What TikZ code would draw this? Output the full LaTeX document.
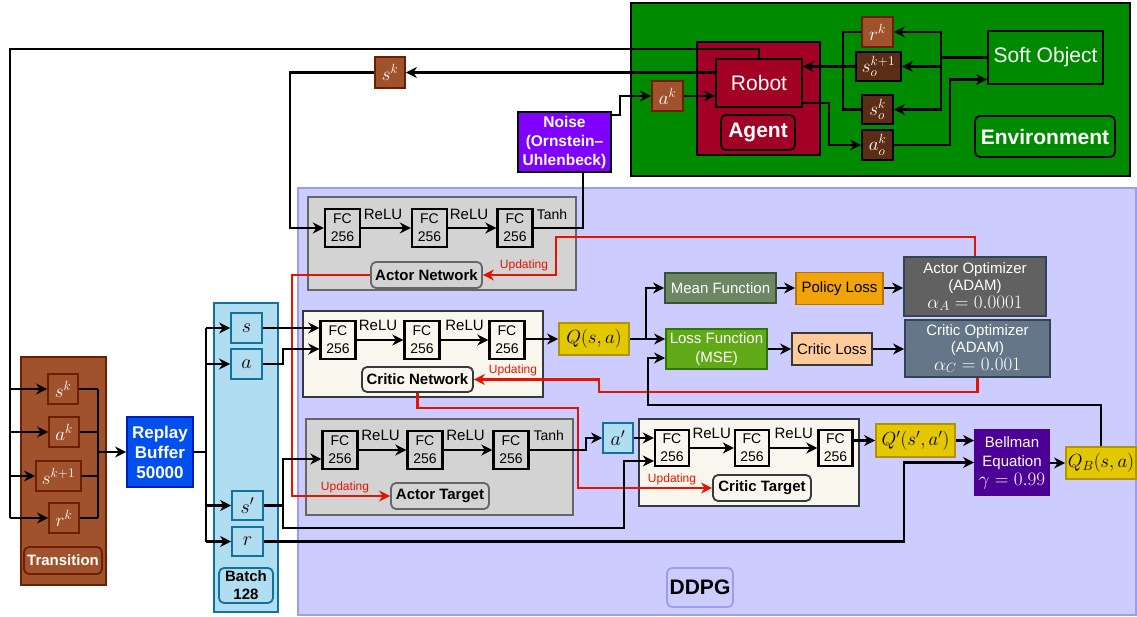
\documentclass[tikz,border=0pt]{standalone}
\usepackage{fix-cm}
\usepackage{fontspec}
\setmainfont{Liberation Sans}
\usetikzlibrary{arrows.meta,calc}

\definecolor{envgreen}{HTML}{008A00}
\definecolor{agentred}{HTML}{A20025}
\definecolor{brownfill}{HTML}{A0522D}
\definecolor{brownline}{HTML}{6D1F00}
\definecolor{darkbrown}{HTML}{5C2D15}
\definecolor{ddpgfill}{HTML}{CCCCFF}
\definecolor{ddpgline}{HTML}{9C9CF5}
\definecolor{greyfill}{HTML}{D3D3D3}
\definecolor{greyline}{HTML}{666666}
\definecolor{creamfill}{HTML}{F9F7ED}
\definecolor{creamline}{HTML}{36393D}
\definecolor{qfill}{HTML}{E3C800}
\definecolor{qline}{HTML}{B09500}
\definecolor{batchfill}{HTML}{B1DDF0}
\definecolor{batchline}{HTML}{10739E}
\definecolor{replayfill}{HTML}{0050EF}
\definecolor{replayline}{HTML}{001DBC}
\definecolor{noisefill}{HTML}{7F00FF}
\definecolor{meanfill}{HTML}{6D8764}
\definecolor{meanline}{HTML}{3A5431}
\definecolor{plossfill}{HTML}{F0A30A}
\definecolor{plossline}{HTML}{BD7000}
\definecolor{aoptfill}{HTML}{616161}
\definecolor{optline}{HTML}{314354}
\definecolor{lossfill}{HTML}{60A917}
\definecolor{lossline}{HTML}{2D7600}
\definecolor{clossfill}{HTML}{FFCC99}
\definecolor{coptfill}{HTML}{647687}
\definecolor{bellfill}{HTML}{4B0096}
\definecolor{updred}{HTML}{E51400}

\tikzset{
  wh/.style 2 args={minimum width=#1pt,minimum height=#2pt},
  bx/.style={draw,line width=1.8pt,inner sep=0pt,align=center},
  t12/.style={font=\fontsize{12}{14}\selectfont},
  t14/.style={font=\fontsize{14}{18}\selectfont},
  t15/.style={font=\fontsize{15}{17.5}\selectfont},
  t15b/.style={font=\fontsize{15}{18}\selectfont\bfseries},
  t17b/.style={font=\fontsize{17}{20}\selectfont\bfseries},
  m19/.style={font=\fontsize{19}{21}\selectfont},
  m20/.style={font=\fontsize{20}{22}\selectfont},
  t21/.style={font=\fontsize{21}{24}\selectfont},
  t21b/.style={font=\fontsize{21}{24}\selectfont\bfseries},
  fc/.style={bx,line width=2.4pt,wh={35}{38},t14},
  grp/.style={bx,line width=2pt},
  tagbox/.style={bx,rounded corners=5pt},
  brownbox/.style={bx,draw=brownline,fill=brownfill,text=white,m19},
  darkbox/.style={bx,draw=black,fill=darkbrown,text=white,m19},
  bluebox/.style={bx,draw=batchline,fill=batchfill,m20},
  qbox/.style={bx,draw=qline,fill=qfill,m19},
  wire/.style={line width=2.5pt},
  arr/.style={wire,-{Stealth[length=11pt,width=11pt,inset=3.5pt]}},
  upd/.style={line width=2.5pt,draw=updred,-{Stealth[length=11pt,width=11pt,inset=3.5pt]}},
  updlbl/.style={text=updred,t12,inner sep=0pt},
  actlbl/.style={t15,inner sep=0pt},
}

\begin{document}
\begin{tikzpicture}[x=1pt,y=-1pt]
\useasboundingbox (0,0) rectangle (1137,617);

% ---------------- environment side ----------------
\node[grp,draw=black,fill=envgreen,wh={499}{173}] (env) at (880.5,89.5) {};
\node[bx,draw=black,fill=agentred,wh={123}{113}] (agent) at (758.5,98.5) {};
\node[bx,draw=black,fill=agentred,text=white,t21,wh={86}{48}] (robot) at (759,83) {Robot};
\node[tagbox,draw=black,fill=agentred,text=white,t21b,wh={74}{35}] (agentlbl) at (758,132.5) {Agent};
\node[brownbox,wh={31}{30}] (ak) at (667.5,96) {$a^k$};
\node[brownbox,wh={31}{30}] (rk) at (877.5,32) {$r^k$};
\node[darkbox,wh={45}{29}] (sok1) at (878.5,66.5) {$s_o^{k+1}$};
\node[darkbox,wh={31}{29}] (sok) at (877.5,109.5) {$s_o^k$};
\node[darkbox,wh={31}{30}] (aok) at (877.5,145) {$a_o^k$};
\node[bx,draw=black,fill=envgreen,text=white,t21,wh={115}{53}] (soft) at (1045.5,57.5) {Soft Object};
\node[tagbox,draw=black,fill=envgreen,text=white,t21b,wh={140}{41}] (envlbl) at (1045,136.5) {Environment};

\node[brownbox,wh={30}{31}] (sktop) at (390,72.5) {$s^k$};
\node[bx,draw=black,fill=noisefill,text=white,font=\fontsize{15.5}{19}\selectfont\bfseries,wh={93}{60}] (noise) at (564.5,142) {Noise\\(Ornstein–\\Uhlenbeck)};

% ---------------- DDPG block ----------------
\node[bx,draw=ddpgline,fill=ddpgfill,wh={838}{427}] (ddpg) at (717,401.5) {};
\node[tagbox,draw=ddpgline,fill=ddpgfill,t21b,wh={66}{39}] (ddpglbl) at (700,587.5) {DDPG};

% actor network
\node[grp,draw=greyline,fill=greyfill,wh={268}{93}] (anet) at (442,243.5) {};
\node[fc] (afc1) at (342.5,228) {FC\\256};
\node[fc] (afc2) at (429.5,228) {FC\\256};
\node[fc] (afc3) at (515,228) {FC\\256};
\node[actlbl] (ar1) at (383,214) {ReLU};
\node[actlbl] (ar2) at (469,214) {ReLU};
\node[actlbl,t14] (at1) at (552,214) {Tanh};
\node[tagbox,draw=greyline,fill=greyfill,t15b,wh={111}{26}] (anetlbl) at (426.5,275) {Actor Network};
\node[updlbl] (u1) at (524,265) {Updating};

% critic network
\node[grp,draw=creamline,fill=creamfill,wh={240}{86}] (cnet) at (423,354) {};
\node[fc] (cfc1) at (338,340) {FC\\256};
\node[fc] (cfc2) at (422,340) {FC\\256};
\node[fc] (cfc3) at (507,340) {FC\\256};
\node[actlbl] (cr1) at (378,325) {ReLU};
\node[actlbl] (cr2) at (464.5,325) {ReLU};
\node[tagbox,draw=creamline,fill=creamfill,t15b,wh={111}{25}] (cnetlbl) at (417.5,379.5) {Critic Network};
\node[updlbl] (u2) at (513,370) {Updating};
\node[qbox,wh={70}{32}] (q) at (594,339) {$Q(s,a)$};

% actor target
\node[grp,draw=greyline,fill=greyfill,wh={267}{96}] (atgt) at (439.5,467) {};
\node[fc] (tfc1) at (340,450) {FC\\256};
\node[fc] (tfc2) at (425,450) {FC\\256};
\node[fc] (tfc3) at (511,450) {FC\\256};
\node[actlbl] (tr1) at (380.5,435) {ReLU};
\node[actlbl] (tr2) at (465.5,435) {ReLU};
\node[actlbl,t14] (tt1) at (548.7,435) {Tanh};
\node[tagbox,draw=greyline,fill=greyfill,t15b,wh={98}{26}] (atgtlbl) at (440,496) {Actor Target};
\node[updlbl] (u3) at (345,487) {Updating};
\node[bluebox,wh={30}{30}] (ap) at (618,438) {$a'$};

% critic target
\node[grp,draw=creamline,fill=creamfill,wh={220}{87}] (ctgt) at (749,462.5) {};
\node[fc,wh={34}{36}] (dfc1) at (672,448) {FC\\256};
\node[fc,wh={34}{36}] (dfc2) at (752,448) {FC\\256};
\node[fc,wh={34}{36}] (dfc3) at (835.5,448) {FC\\256};
\node[actlbl] (dr1) at (711.7,433) {ReLU};
\node[actlbl] (dr2) at (793.8,433) {ReLU};
\node[tagbox,draw=creamline,fill=creamfill,t15b,wh={98}{26}] (ctgtlbl) at (762,488) {Critic Target};
\node[updlbl] (u4) at (672,479) {Updating};
\node[qbox,wh={79}{33}] (qp) at (915.5,440.5) {$Q'(s',a')$};
\node[bx,draw=bellfill,fill=bellfill,text=white,font=\fontsize{15}{19}\selectfont,wh={74}{65}] (bell) at (1012,462.5)
  {Bellman\\Equation\\{\fontsize{19}{19}\selectfont$\gamma=0.99$}};
\node[qbox,wh={70}{32}] (qb) at (1101,463) {$Q_B(s,a)$};

% losses and optimisers
\node[bx,draw=meanline,fill=meanfill,text=white,t15,wh={111}{30}] (mean) at (720.5,288) {Mean Function};
\node[bx,draw=plossline,fill=plossfill,t15,wh={87}{32}] (ploss) at (839.5,288.5) {Policy Loss};
\node[bx,draw=optline,fill=aoptfill,text=white,t15,wh={142}{59}] (aopt) at (975,286.5)
  {Actor Optimizer\\(ADAM)\\{\fontsize{19}{18}\selectfont$\alpha_A=0.0001$}};
\node[bx,draw=lossline,fill=lossfill,text=white,font=\fontsize{15}{19}\selectfont,wh={101}{40}] (lossf) at (716.5,349) {Loss Function\\(MSE)};
\node[bx,draw=creamline,fill=clossfill,t15,wh={80}{32}] (closs) at (832,349) {Critic Loss};
\node[bx,draw=optline,fill=coptfill,text=white,t15,wh={145}{57}] (copt) at (977.5,348.5)
  {Critic Optimizer\\(ADAM)\\{\fontsize{19}{18}\selectfont$\alpha_C=0.001$}};

% ---------------- batch ----------------
\node[grp,draw=batchline,fill=batchfill,wh={64}{309}] (batch) at (246,457.5) {};
\node[bluebox,wh={31}{30}] (bs) at (246.5,328) {$s$};
\node[bluebox,wh={31}{30}] (ba) at (246.5,364) {$a$};
\node[bluebox,wh={31}{29}] (bsp) at (247.5,505.5) {$s'$};
\node[bluebox,wh={31}{29}] (br) at (247.5,541.5) {$r$};
\node[tagbox,draw=batchline,fill=batchfill,t15b,wh={54}{35}] (batchlbl) at (246,585.5) {Batch\\128};

% ---------------- transition and replay buffer ----------------
\node[grp,draw=brownline,fill=brownfill,wh={85}{228}] (trans) at (63.5,471) {};
\node[brownbox,wh={30}{30}] (ts) at (63,389) {$s^k$};
\node[brownbox,wh={30}{30}] (ta) at (64,432) {$a^k$};
\node[brownbox,wh={45}{30}] (ts1) at (58.5,476) {$s^{k+1}$};
\node[brownbox,wh={30}{30}] (tr) at (64,518) {$r^k$};
\node[tagbox,draw=brownline,fill=brownfill,text=white,t15b,wh={78}{27}] (translbl) at (63,560.5) {Transition};
\node[bx,draw=replayline,fill=replayfill,text=white,t17b,wh={66}{70}] (replay) at (160,452) {Replay\\Buffer\\50000};

% ---------------- junction points ----------------
\coordinate (jR) at (941,0);
\coordinate (jL) at (843,0);
\coordinate (jA) at (829,0);
\coordinate (jB) at (950,0);
\coordinate (jN) at (620,0);
\coordinate (loop) at (10,49);
\coordinate (jS) at (290,0);
\coordinate (jT) at (583,0);
\coordinate (rA) at (556,237);
\coordinate (rB) at (292,0);
\coordinate (jC) at (283,0);
\coordinate (jQ) at (646,0);
\coordinate (rC) at (599,392);
\coordinate (rD) at (578,408);
\coordinate (rE) at (648,405);
\coordinate (jK) at (206,0);
\coordinate (jX) at (98,0);
\coordinate (jD) at (624,528);
\coordinate (jE) at (586,0);
\coordinate (jF) at (904,0);

% ---------------- environment connectors ----------------
\draw[wire] (soft.west) -- (jR |- soft.west);
\draw[arr] (jR |- soft.west) |- (rk.east);
\draw[arr] (jR |- soft.west) |- (sok.east);
\draw[arr] (jR |- sok1) -- (sok1.east);
\draw[wire] (rk.west) -| (jL |- sok1.west);
\draw[wire] (sok.west) -| (jL |- sok1.west);
\draw[arr] (sok1.west) -- (robot.east |- sok1.west);
\draw[arr] ([yshift=-20pt]robot.east) -| (jA |- aok.west) -- (aok.west);
\draw[arr] (aok.east) -- (jB |- aok.east) |- ([yshift=-22pt]soft.west);
\draw[arr] (ak.east) -- (robot.west |- ak.east);
\draw[arr] ([yshift=-4pt]noise.north east) -| (jN |- ak.west) -- (ak.west);
\draw[wire] (robot.north) |- (loop) -- (loop |- tr.west);
\draw[arr] (loop |- ts.west) -- (ts.west);
\draw[arr] (loop |- ta.west) -- (ta.west);
\draw[arr] (loop |- ts1.west) -- (ts1.west);
\draw[arr] (loop |- tr.west) -- (tr.west);
\draw[arr] (robot.west |- sktop) -- (sktop.east);
\draw[arr] (sktop.west) -| (jS |- afc1) -- (afc1.west);

% ---------------- actor network ----------------
\draw[arr] (afc1.east) -- (afc2.west);
\draw[arr] (afc2.east) -- (afc3.west);
\draw[wire] (afc3.east) -| (jT |- noise.south);
\draw[upd] (aopt.north) |- (rA) |- (anetlbl.east);
\draw[upd] (anetlbl.west) -| (rB |- atgtlbl) -- (atgtlbl.west);

% ---------------- critic network ----------------
\draw[arr] (bs.east) -- (cfc1.west |- bs.east);
\draw[arr] (ba.east) -- (jC |- ba.east) |- ([yshift=-9pt]cfc1.west);
\draw[arr] (cfc1.east) -- (cfc2.west);
\draw[arr] (cfc2.east) -- (cfc3.west);
\draw[arr] (cfc3.east |- q.west) -- (q.west);
\draw[arr] (q.east) -- (lossf.west |- q.east);
\draw[arr] (jQ |- q.east) |- (mean.west);
\draw[arr] (mean.east) -- (ploss.west |- mean.east);
\draw[arr] (ploss.east |- mean.east) -- (aopt.west |- mean.east);
\draw[arr] (lossf.east) -- (closs.west);
\draw[arr] (closs.east) -- (copt.west |- closs.east);
\draw[upd] (copt.south) |- (rC) |- (cnetlbl.east);
\draw[upd] (cnetlbl.south) |- (rD) |- (ctgtlbl.west);
\draw[arr] (qb.north) |- (rE) |- ([yshift=-9pt]lossf.west);

% ---------------- batch sampling ----------------
\draw[wire] (ts.east) -- (jX |- ts.east);
\draw[wire] (ta.east) -- (jX |- ta.east);
\draw[wire] (ts1.east) -- (jX |- ts1.east);
\draw[wire] (tr.east) -- (jX |- tr.east);
\draw[wire] (jX |- ts) -- (jX |- tr);
\draw[arr] (jX |- replay.west) -- (replay.west);
\draw[wire] (replay.east) -- (jK |- replay.east);
\draw[wire] (jK |- bs) -- (jK |- br);
\draw[arr] (jK |- bs) -- (bs.west);
\draw[arr] (jK |- ba) -- (ba.west);
\draw[arr] (jK |- bsp) -- (bsp.west);
\draw[arr] (jK |- br) -- (br.west);

% ---------------- target networks ----------------
\draw[wire] (bsp.east) -- (jC |- bsp.east);
\draw[arr] (jC |- bsp.east) |- ([yshift=-9pt]tfc1.west);
\draw[arr] (jC |- bsp.east) |- (jD) |- ([yshift=-13pt]dfc1.west);
\draw[arr] (tfc1.east) -- (tfc2.west);
\draw[arr] (tfc2.east) -- (tfc3.west);
\draw[arr] (tfc3.east) -| (jE |- ap) -- (ap.west);
\draw[arr] (ap.east) -- (dfc1.west |- ap.east);
\draw[arr] (dfc1.east) -- (dfc2.west);
\draw[arr] (dfc2.east) -- (dfc3.west);
\draw[arr] (dfc3.east |- qp.west) -- (qp.west);
\draw[arr] (qp.east) -- (bell.west |- qp.east);
\draw[arr] (bell.east |- qb.west) -- (qb.west);
\draw[arr] (br.east) -- (jF |- br.east) |- (bell.west);
\end{tikzpicture}
\end{document}
